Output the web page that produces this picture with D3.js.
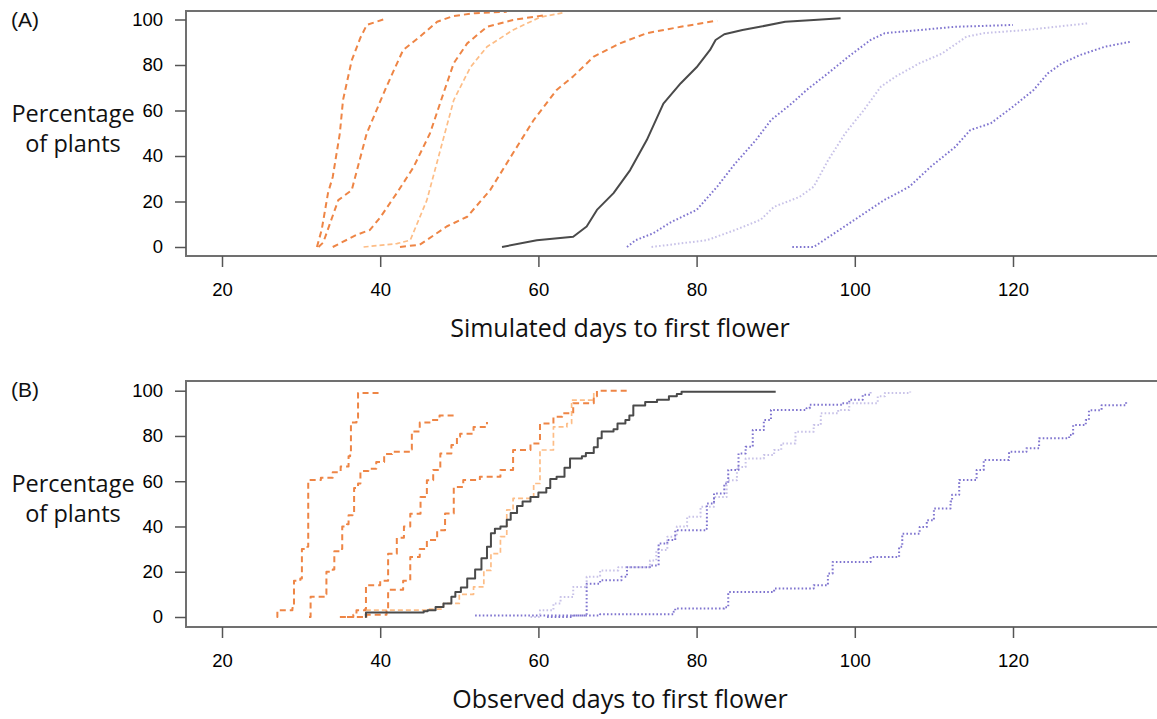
<!DOCTYPE html>
<html><head><meta charset="utf-8">
<script src="https://cdn.jsdelivr.net/npm/d3@7"></script>
<style>
html,body{margin:0;padding:0;background:#fff;}
svg{display:block;}
</style></head>
<body>
<svg id="chart" width="1157" height="719"></svg>
<script>
// ---------- DATA ----------
const xTicks = [20, 40, 60, 80, 100, 120];
const yTicks = [0, 20, 40, 60, 80, 100];
const panelLabels = ["(A)", "(B)"];
const xTitles = ["Simulated days to first flower", "Observed days to first flower"];
const yTitleLines = ["Percentage", "of plants"];

// Panel A: simulated (day, cumulative %)
const simOrange1 = [[32.0,0],[32.6,7.5],[33.4,23.7],[34.0,30.8],[34.9,50],[35.3,64.6],[36.4,82],[37.5,92],[38.3,97.6],[40.4,100]];
const simOrange2 = [[32.2,0],[32.8,2],[34.7,20.6],[36.4,25],[38.3,50],[40.8,70.5],[41.9,79],[42.9,86.6],[45.0,92.4],[47.2,99],[49.2,101.5],[52,102.8],[56,103.4]];
const simOrange3 = [[34.0,0],[37.0,5.3],[38.7,7.5],[40,13],[42.1,23.7],[44.2,35],[46.3,50],[48.0,67.6],[49.3,80.8],[51.0,89.5],[53.5,96.8],[56.8,99.8],[61,102]];
const simLightOrange = [[37.9,0],[42.1,1.5],[43.8,3],[45.9,20.6],[47.6,42.6],[49.3,64.6],[51.4,79],[53.5,88],[56.8,95.4],[60.2,101],[63.2,103]];
const simOrange4 = [[42.5,0],[45,1],[48.4,9],[51,13.3],[53.9,25],[56.8,41.3],[59.4,55.8],[62.3,69],[64.4,75],[67,83.7],[70.3,89.5],[73.7,94],[78,96.8],[82.6,99.5]];
const simBlack = [[55.4,0],[59.8,3],[64.4,4.5],[66.1,9],[67.4,16.3],[69.5,23.7],[71.6,33.8],[73.7,47],[75.8,63],[78,72],[80,79],[81.7,86.6],[82.4,91],[83.5,93.5],[85.8,95.4],[88,96.8],[91.2,99],[94.8,99.8],[98.2,100.5]];
const simPurple1 = [[71.2,0],[72.3,3],[74.5,6],[76.8,11],[80,16.3],[82.6,26.5],[84.9,36.8],[87.5,47],[89.4,55.8],[92,63],[93.9,69],[96.6,76.3],[99.2,83.7],[102,91],[103.8,94],[108.3,95.4],[112.7,96.8],[120,97.6]];
const simLightPurple = [[74.3,0],[81.3,3],[84.9,7.5],[88.1,12],[89.8,17.7],[93,22],[94.8,26.5],[96.6,38],[98.8,50],[101.1,60],[103.3,70.5],[105.2,75],[108.2,80.8],[111,85],[114.1,92.4],[116.3,94],[121.7,95.4],[129.4,98.3]];
const simPurple2 = [[92.1,0],[94.8,0],[99.3,10.4],[103.7,20.6],[106.9,26.5],[109.6,35.3],[112.7,44],[114.6,51.4],[117.2,54.4],[120,61.7],[122.6,69],[124.4,76.3],[126.2,80.8],[128.5,84.4],[131.6,88],[134.8,90.2]];

// Panel B: observed (step points: day, % after step)
const obsOrange1 = [[26.9,0],[27.0,3],[28.9,4],[29.1,16],[29.9,17],[30.1,30],[30.8,31],[30.9,60.5],[32.5,61.5],[34,64],[35,66.5],[36,71],[36.2,72.5],[36.3,86],[37,88],[37.2,99],[40,99.5]];
const obsOrange2 = [[31.0,0],[31.2,9],[33,10],[33.2,20],[34,21],[34.2,29],[35,30],[35.2,40],[35.8,41],[36,45],[36.5,46],[36.7,57],[37.2,59],[37.5,64.5],[38.5,65.5],[39.5,68.5],[40.5,72],[41.5,73],[43.8,74],[44,82],[45,86],[46.5,87],[47.5,89],[49.5,89]];
const obsOrange3 = [[34.9,0],[36.6,1],[37,3],[38.1,3.5],[38.2,14],[40,16],[41,28],[42.1,35],[43,40],[43.8,45.6],[45.1,53],[45.9,60.4],[46.7,65],[47.6,72.3],[49,76],[49.7,79.6],[50.1,81],[51.8,84],[53.5,86.2]];
const obsOrange4 = [[35.8,0],[38,1],[40.8,3],[41,12],[42.9,16],[43.8,26.5],[45,30],[45.9,34],[47.2,38.3],[48.2,45.7],[49.3,57.5],[50.5,60.5],[52.6,62],[55.2,65],[56.8,73.8],[59,76.7],[60.2,85.5],[61.9,88.5],[63,90],[64.4,94.5],[67,97.5],[67.4,100],[71.2,100]];
const obsLightOrange = [[35,0],[38.3,3],[45.9,3.5],[48,6],[50,10],[51.8,13.3],[53.1,20.6],[54,28],[55.2,35.5],[56,47.3],[56.8,52.4],[59.4,59],[60.2,73.8],[61.9,84],[63.6,85.5],[64.2,95.8],[67,100]];
const obsBlack = [[38.1,0],[38.2,2],[45.5,2.5],[46,3],[47,4.4],[48,6],[49,9],[49.5,11],[50.2,13],[51,17],[52,21],[52.8,26],[53.5,31],[54,37],[54.5,39],[55.2,40],[56,43],[56.5,46],[57.3,49],[58,51],[59,53],[60,55],[61,57],[61.5,61],[62.3,62],[63.3,66],[64,70],[65.5,71],[66,72.5],[67,75],[67.5,79],[68,82],[69.5,83],[70,85.5],[71,87],[71.5,89],[72,93.5],[73.5,95],[75,96],[76.5,97.5],[77.5,98.5],[78.1,99.5],[90,99.5]];
const obsPurple1 = [[61.1,0],[64.4,0.7],[66.1,14.7],[67.8,16.2],[70.5,17.8],[71.2,22],[74.1,22.8],[75.2,32.5],[76.3,34],[77.3,38.3],[81.1,39],[81.3,50.2],[82.2,54.6],[83.5,59],[84,65],[85.3,72.3],[86.2,75.2],[87.1,82.6],[88.5,87],[89.4,91.5],[93.9,92.3],[94.3,93.8],[98.4,94.5],[99.3,96],[101,98.2],[102,99.2]];
const obsLightPurple = [[59,0],[60.2,3],[61.9,6],[62.8,8.8],[64.4,13.3],[66.1,17.8],[67.8,20.6],[70.1,22],[74.1,25],[74.9,29.6],[76.3,35.5],[77.5,40],[78.8,44.3],[80.5,48.7],[82.2,53],[83.8,60.4],[85.1,66.3],[86.2,70],[88.5,71.6],[89.8,73.8],[90.7,76.7],[92.5,81.9],[94.8,84.8],[95.7,90],[97.9,91.5],[99.3,94.5],[102.9,97.5],[103.8,99],[107,99.7]];
const obsPurple2 = [[52,0.7],[67.8,1.2],[77.1,2.3],[77.3,3.8],[83.5,4.3],[84,11],[89.8,12.6],[94.8,14],[96.6,19.2],[97.2,24.3],[102,26.5],[105.6,31],[106,36.8],[108.2,39.8],[109.1,42.7],[110,48],[112.1,51],[112.3,54],[113.2,60.5],[115.4,65],[116.3,69.4],[119.5,73],[121.7,74.6],[123.3,79],[127.1,80.4],[127.6,84.8],[129.2,87],[129.6,91.4],[131.2,93.6],[134.3,95]];

// ---------- STYLES ----------
const styles = {
  orange:      {stroke:"#EE8545", width:2.0, dash:"6,4"},
  lightOrange: {stroke:"#FDBD86", width:1.7, dash:"5,3"},
  black:       {stroke:"#4a4a4a", width:2.0, dash:null},
  purple:      {stroke:"#7F74CF", width:2.0, dash:"1.6,2.2"},
  lightPurple: {stroke:"#C8C2E8", width:2.0, dash:"1.6,2.2"}
};

const panels = [
  {top:11, bottom:256, y0:247, y100:19.5, curve:d3.curveLinear,
   series:[[simPurple2,"purple"],[simLightPurple,"lightPurple"],[simPurple1,"purple"],
           [simLightOrange,"lightOrange"],[simOrange1,"orange"],[simOrange2,"orange"],[simOrange3,"orange"],[simOrange4,"orange"],[simBlack,"black"]]},
  {top:381, bottom:627, y0:617, y100:390.7, curve:d3.curveStepAfter,
   series:[[obsPurple2,"purple"],[obsLightPurple,"lightPurple"],[obsPurple1,"purple"],
           [obsLightOrange,"lightOrange"],[obsOrange1,"orange"],[obsOrange2,"orange"],[obsOrange3,"orange"],[obsOrange4,"orange"],[obsBlack,"black"]]}
];

const svg = d3.select("#chart");
const left = 186, right = 1162;
const x = d3.scaleLinear().domain([20,120]).range([222,1013]);
const tickFont = "'Liberation Sans', Arial, sans-serif";
const titleFont = "'Open Sans', 'Noto Sans', sans-serif";

panels.forEach((p, i) => {
  const g = svg.append("g");
  const y = d3.scaleLinear().domain([0,100]).range([p.y0, p.y100]);

  // lines
  const line = d3.line().x(d => x(d[0])).y(d => y(d[1])).curve(p.curve);
  p.series.forEach(([data, key]) => {
    const s = styles[key];
    g.append("path").attr("d", line(data))
      .attr("fill","none").attr("stroke", s.stroke).attr("stroke-width", s.width)
      .attr("stroke-dasharray", s.dash).attr("stroke-linejoin","round");
  });

  // box
  g.append("rect").attr("x", left).attr("y", p.top).attr("width", right-left).attr("height", p.bottom-p.top)
    .attr("fill","none").attr("stroke","#707070").attr("stroke-width",2);

  // y axis
  const ya = g.append("g").attr("transform", `translate(${left},0)`)
    .call(d3.axisLeft(y).tickValues(yTicks).tickSize(11).tickPadding(12));
  ya.select(".domain").remove();
  ya.selectAll("line").attr("stroke","#555").attr("stroke-width",1.5);
  ya.selectAll("text").attr("font-family",tickFont).attr("font-size",18.5).attr("fill","#000");

  // x axis
  const xa = g.append("g").attr("transform", `translate(0,${p.bottom})`)
    .call(d3.axisBottom(x).tickValues(xTicks).tickSize(11).tickPadding(16));
  xa.select(".domain").remove();
  xa.selectAll("line").attr("stroke","#555").attr("stroke-width",1.5);
  xa.selectAll("text").attr("font-family",tickFont).attr("font-size",18.5).attr("fill","#000");

  // panel label
  g.append("text").attr("x",11).attr("y",p.top+16).text(panelLabels[i])
    .attr("font-family",tickFont).attr("font-size",21).attr("fill","#111");

  // y title
  const yt = g.append("text").attr("text-anchor","middle")
    .attr("font-family",titleFont).attr("font-size",23.5).attr("fill","#111");
  yt.append("tspan").attr("x",73).attr("y",p.top+111).text(yTitleLines[0]);
  yt.append("tspan").attr("x",73).attr("y",p.top+141).text(yTitleLines[1]);

  // x title
  g.append("text").attr("x",620).attr("y",p.bottom+81).attr("text-anchor","middle")
    .attr("font-family",titleFont).attr("font-size",25).attr("fill","#111")
    .text(xTitles[i]);
});
</script>
</body></html>
